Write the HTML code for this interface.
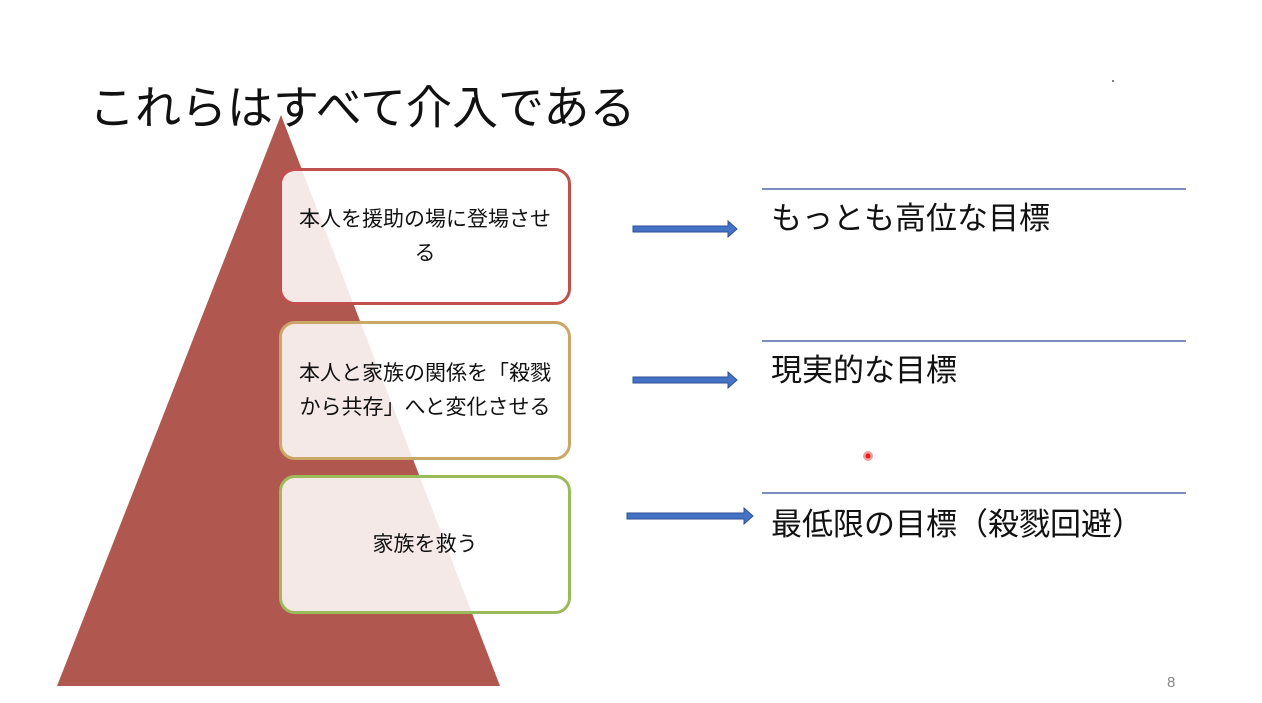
<!DOCTYPE html>
<html><head><meta charset="utf-8"><style>
body{margin:0;width:1262px;height:703px;background:#fff;position:relative;overflow:hidden;font-family:"Liberation Sans","Noto Sans CJK JP",sans-serif}
.t{position:absolute;white-space:nowrap;color:#111}
.box{position:absolute;left:279px;width:292px;border-radius:16px;background:rgba(255,255,255,0.87);border:3px solid;display:flex;align-items:center;justify-content:center;text-align:center;font-size:21px;line-height:34px;color:#111;box-sizing:border-box}
.ln{position:absolute;left:762px;width:424px;height:1.5px;background:#7f8cc0}
</style></head><body>
<svg width="1262" height="703" style="position:absolute;left:0;top:0">
<polygon points="281,115 57,686 500,686" fill="#b0574f"/>
<g fill="#4472c4" stroke="#2f4f9a" stroke-width="1">
<polygon points="633,226 728,226 728,221 737,229 728,237 728,232 633,232"/>
<polygon points="633,377 728,377 728,372 737,380 728,388 728,383 633,383"/>
<polygon points="627,513 744,513 744,508 753,516 744,524 744,519 627,519"/>
</g>
<circle cx="868" cy="456" r="5" fill="#f5a0a0"/><circle cx="868" cy="456" r="2.5" fill="#e02020"/>
<circle cx="1113" cy="81" r="1" fill="#555"/>
</svg>
<div class="t" style="left:89px;top:72px;font-size:46px">これらはすべて介入である</div>
<div class="box" style="top:168px;height:137px;border-color:#c0504d">本人を援助の場に登場させ<br>る</div>
<div class="box" style="top:321px;height:139px;border-color:#c9a865">本人と家族の関係を「殺戮<br>から共存」へと変化させる</div>
<div class="box" style="top:475px;height:139px;border-color:#9bbb59">家族を救う</div>
<div class="ln" style="top:188px"></div>
<div class="ln" style="top:340px"></div>
<div class="ln" style="top:492px"></div>
<div class="t" style="left:771px;top:193px;font-size:31px">もっとも高位な目標</div>
<div class="t" style="left:771px;top:345px;font-size:31px">現実的な目標</div>
<div class="t" style="left:771px;top:499px;font-size:31px">最低限の目標（殺戮回避）</div>
<div class="t" style="left:1167px;top:674px;font-size:15px;color:#888">8</div>
</body></html>
